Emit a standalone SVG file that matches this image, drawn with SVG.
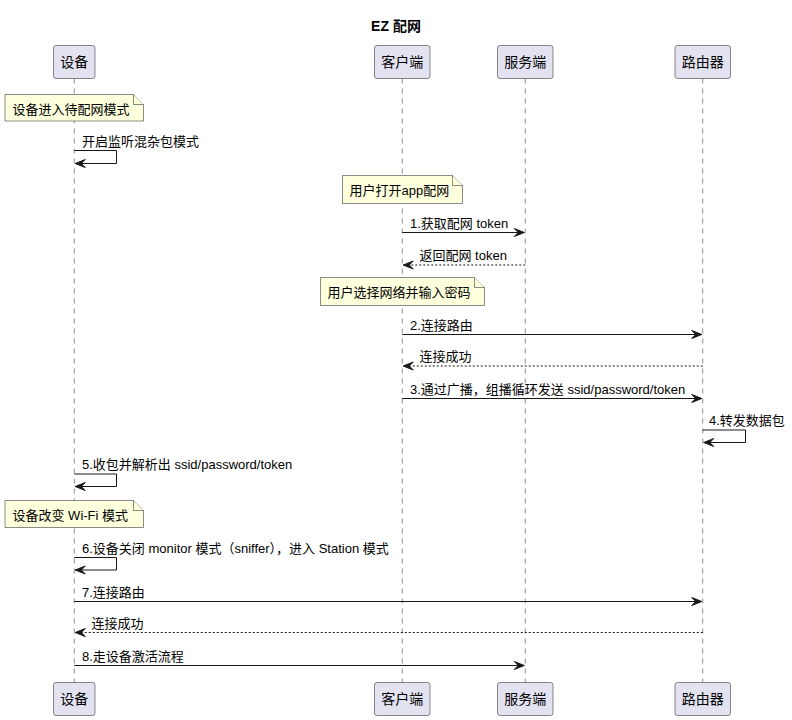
<svg xmlns="http://www.w3.org/2000/svg" width="792" height="720" viewBox="0 0 792 720">
<defs>
<style>
text{font-family:"Liberation Sans","Noto Sans CJK SC",sans-serif;fill:#000}
.title{font-size:14px;font-weight:bold}
.p{font-size:14px;text-anchor:middle}
.m{font-size:13px}
.n{font-size:13px}
.box{fill:#E2E2F0;stroke:#181818;stroke-width:0.5}
.life{stroke:#181818;stroke-width:0.5;stroke-dasharray:5,5;fill:none}
.note{fill:#FEFFDD;stroke:#181818;stroke-width:0.5}
.arr{stroke:#181818;stroke-width:1;fill:none;marker-end:url(#ah)}
.ret{stroke:#181818;stroke-width:1;fill:none;stroke-dasharray:2,2;marker-end:url(#ah)}
</style>
<marker id="ah" markerUnits="userSpaceOnUse" markerWidth="11" markerHeight="10" refX="10" refY="4" orient="auto" overflow="visible">
<path d="M0,0 L10,4 L0,8 L4,4 Z" fill="#181818" stroke="#181818" stroke-width="1"/>
</marker>
</defs>
<rect width="792" height="720" fill="#FFFFFF"/>
<text class="title" x="396" y="31" text-anchor="middle">EZ 配网</text>

<g id="lifelines">
<line class="life" x1="74.25" y1="78.5" x2="74.25" y2="682.5"/>
<line class="life" x1="402.25" y1="78.5" x2="402.25" y2="682.5"/>
<line class="life" x1="525.25" y1="78.5" x2="525.25" y2="682.5"/>
<line class="life" x1="702.75" y1="78.5" x2="702.75" y2="682.5"/>
</g>

<g id="device">
<rect class="box" x="53.5" y="45.5" width="41.5" height="33" rx="2.5"/>
<text class="p" x="74.25" y="67">设备</text>
<rect class="box" x="53.5" y="682.5" width="41.5" height="33" rx="2.5"/>
<text class="p" x="74.25" y="704">设备</text>
</g>
<g id="client">
<rect class="box" x="374.5" y="45.5" width="55.5" height="33" rx="2.5"/>
<text class="p" x="402.25" y="67">客户端</text>
<rect class="box" x="374.5" y="682.5" width="55.5" height="33" rx="2.5"/>
<text class="p" x="402.25" y="704">客户端</text>
</g>
<g id="server">
<rect class="box" x="497.5" y="45.5" width="55.5" height="33" rx="2.5"/>
<text class="p" x="525.25" y="67">服务端</text>
<rect class="box" x="497.5" y="682.5" width="55.5" height="33" rx="2.5"/>
<text class="p" x="525.25" y="704">服务端</text>
</g>
<g id="router">
<rect class="box" x="675" y="45.5" width="55.5" height="33" rx="2.5"/>
<text class="p" x="702.75" y="67">路由器</text>
<rect class="box" x="675" y="682.5" width="55.5" height="33" rx="2.5"/>
<text class="p" x="702.75" y="704">路由器</text>
</g>

<g id="note1">
<path class="note" d="M5,94.5 H133.5 L143.5,104.5 V121 H5 Z"/>
<path class="note" d="M133.5,94.5 V104.5 H143.5" fill="none"/>
<text class="n" x="12.5" y="113.5">设备进入待配网模式</text>
</g>
<g id="note2">
<path class="note" d="M342.5,175.5 H452.5 L462.5,185.5 V203.5 H342.5 Z"/>
<path class="note" d="M452.5,175.5 V185.5 H462.5" fill="none"/>
<text class="n" x="349.5" y="194.5">用户打开app配网</text>
</g>
<g id="note3">
<path class="note" d="M320.5,277.5 H474.5 L484.5,287.5 V305.5 H320.5 Z"/>
<path class="note" d="M474.5,277.5 V287.5 H484.5" fill="none"/>
<text class="n" x="327.5" y="296.5">用户选择网络并输入密码</text>
</g>
<g id="note4">
<path class="note" d="M5,500.5 H133.5 L143.5,510.5 V527.5 H5 Z"/>
<path class="note" d="M133.5,500.5 V510.5 H143.5" fill="none"/>
<text class="n" x="12.5" y="519.5">设备改变 Wi-Fi 模式</text>
</g>

<g id="connectors">
<path class="arr" d="M74.25,150.5 H116.5 V163.5 H75.25"/>
<text class="m" x="82" y="145.5">开启监听混杂包模式</text>

<path class="arr" d="M402.25,232.5 H524.25"/>
<text class="m" x="410" y="227.5">1.获取配网 token</text>

<path class="ret" d="M525.25,265 H403.25"/>
<text class="m" x="419.5" y="260">返回配网 token</text>

<path class="arr" d="M402.25,334.5 H701.75"/>
<text class="m" x="410" y="329.5">2.连接路由</text>

<path class="ret" d="M702.75,366 H403.25"/>
<text class="m" x="419.5" y="361">连接成功</text>

<path class="arr" d="M402.25,398.5 H701.75"/>
<text class="m" x="410" y="393.5">3.通过广播，组播循环发送 ssid/password/token</text>

<path class="arr" d="M702.75,430 H745.5 V442.5 H703.75"/>
<text class="m" x="709" y="425">4.转发数据包</text>

<path class="arr" d="M74.25,474 H116.5 V486.5 H75.25"/>
<text class="m" x="82" y="469">5.收包并解析出 ssid/password/token</text>

<path class="arr" d="M74.25,557.5 H116.5 V570 H75.25"/>
<text class="m" x="82" y="552.5">6.设备关闭 monitor 模式（sniffer），进入 Station 模式</text>

<path class="arr" d="M74.25,601.5 H701.75"/>
<text class="m" x="82" y="596.5">7.连接路由</text>

<path class="ret" d="M702.75,632.5 H75.25"/>
<text class="m" x="91.5" y="627.5">连接成功</text>

<path class="arr" d="M74.25,665.5 H524.25"/>
<text class="m" x="82" y="660.5">8.走设备激活流程</text>
</g>
</svg>
